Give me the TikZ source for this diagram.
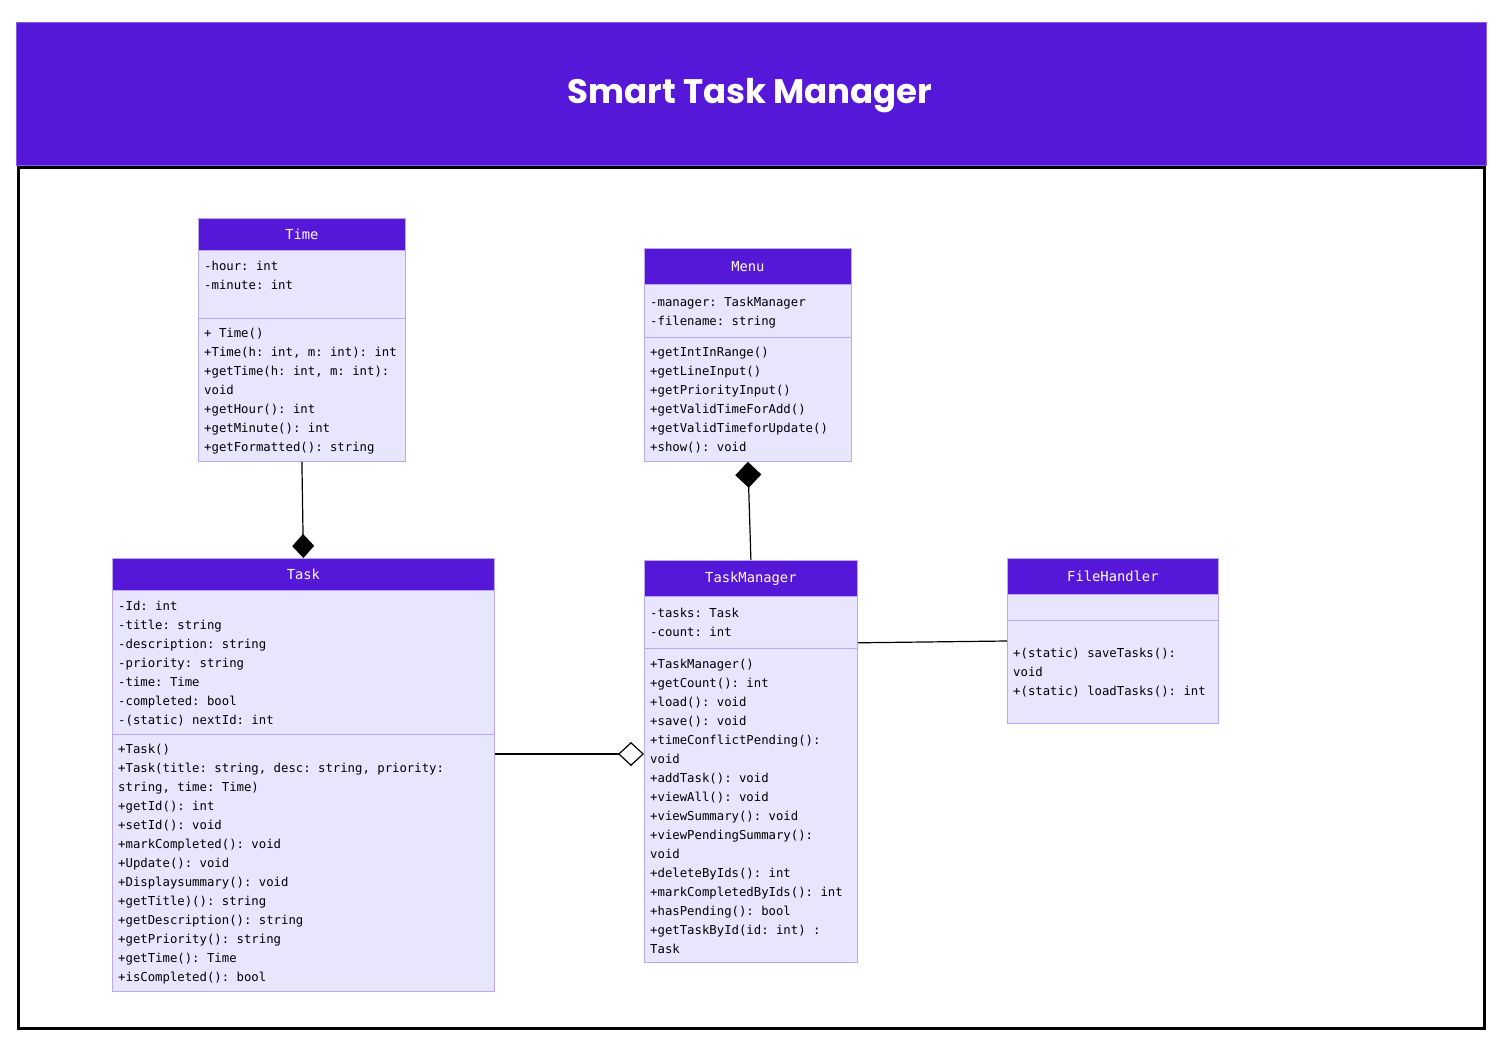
\documentclass[tikz,border=0pt]{standalone}
\usepackage{fontspec}
\usetikzlibrary{arrows.meta}
\newfontfamily\monofont{DejaVu Sans Mono}
\newfontfamily\titlefont{Poppins}
\definecolor{hdrc}{HTML}{5518D9}
\definecolor{boxc}{HTML}{E8E5FE}
\definecolor{bordc}{HTML}{BBA8F3}
\frenchspacing
\tikzset{
  hdr/.style={fill=hdrc, draw=bordc, line width=0.8pt, text=white, anchor=north west, inner sep=0pt, font=\monofont\frenchspacing\fontsize{13.8}{16}\selectfont},
  sec/.style={fill=boxc, draw=bordc, line width=0.8pt, anchor=north west, inner sep=0pt},
  ln/.style={anchor=base west, inner sep=0pt, text=black, font=\monofont\frenchspacing\fontsize{12.3}{19}\selectfont},
  conn/.style={line width=1.2pt, black},
}
\newcommand\putlines[4]{%
  \foreach \t [count=\i] in {#4} {\node[ln] (#1\i) at (#2,{#3+19*(\i-1)}) {\t};}%
}
\begin{document}
\begin{tikzpicture}[x=1pt,y=-1pt]
\useasboundingbox (0,0) rectangle (1502,1057);
\fill[white] (0,0) rectangle (1502,1057);
% header band
\node[fill=hdrc, draw=hdrc!70!white, line width=0.6pt, anchor=north west, inner sep=0pt, minimum width=1470pt, minimum height=143pt] (band) at (16,22) {};
\node[text=white, font=\titlefont\bfseries\fontsize{34}{40}\selectfont] (title) at (750,96) {Smart Task Manager};
\draw[line width=3pt] (18,167) rectangle (1484,1028);

% Time
\node[hdr, minimum width=207pt, minimum height=32pt] (time) at (198,218) {Time};
\node[sec, minimum width=207pt, minimum height=68pt] (timeA) at (198,250) {};
\node[sec, minimum width=207pt, minimum height=143pt] (timeM) at (198,318) {};
\putlines{timeAl}{204}{270.5}{{-hour: int},{-minute: int}}
\putlines{timeMl}{204}{337.5}{{+ Time()},{+Time(h: int, m: int): int},{+getTime(h: int, m: int):},{void},{+getHour(): int},{+getMinute(): int},{+getFormatted(): string}}

% Menu
\node[hdr, minimum width=207pt, minimum height=36pt] (menu) at (644,248) {Menu};
\node[sec, minimum width=207pt, minimum height=53pt] (menuA) at (644,284) {};
\node[sec, minimum width=207pt, minimum height=124pt] (menuM) at (644,337) {};
\putlines{menuAl}{650}{306.5}{{-manager: TaskManager},{-filename: string}}
\putlines{menuMl}{650}{356.5}{{+getIntInRange()},{+getLineInput()},{+getPriorityInput()},{+getValidTimeForAdd()},{+getValidTimeforUpdate()},{+show(): void}}

% Task
\node[hdr, minimum width=382pt, minimum height=32pt] (task) at (112,558) {Task};
\node[sec, minimum width=382pt, minimum height=144pt] (taskA) at (112,590) {};
\node[sec, minimum width=382pt, minimum height=257pt] (taskM) at (112,734) {};
\putlines{taskAl}{118}{610.5}{{-Id: int},{-title: string},{-description: string},{-priority: string},{-time: Time},{-completed: bool},{-(static) nextId: int}}
\putlines{taskMl}{118}{753.5}{{+Task()},{+Task(title: string, desc: string, priority:},{string, time: Time)},{+getId(): int},{+setId(): void},{+markCompleted(): void},{+Update(): void},{+Displaysummary(): void},{+getTitle)(): string},{+getDescription(): string},{+getPriority(): string},{+getTime(): Time},{+isCompleted(): bool}}

% TaskManager
\node[hdr, minimum width=213pt, minimum height=36pt] (tm) at (644,560) {TaskManager};
\node[sec, minimum width=213pt, minimum height=52pt] (tmA) at (644,596) {};
\node[sec, minimum width=213pt, minimum height=314pt] (tmM) at (644,648) {};
\putlines{tmAl}{650}{617.5}{{-tasks: Task},{-count: int}}
\putlines{tmMl}{650}{668.5}{{+TaskManager()},{+getCount(): int},{+load(): void},{+save(): void},{+timeConflictPending():},{void},{+addTask(): void},{+viewAll(): void},{+viewSummary(): void},{+viewPendingSummary():},{void},{+deleteByIds(): int},{+markCompletedByIds(): int},{+hasPending(): bool},{+getTaskById(id: int) :},{Task}}

% FileHandler
\node[hdr, minimum width=211pt, minimum height=36pt] (fh) at (1007,558) {FileHandler};
\node[sec, minimum width=211pt, minimum height=26pt] (fhA) at (1007,594) {};
\node[sec, minimum width=211pt, minimum height=103pt] (fhM) at (1007,620) {};
\putlines{fhMl}{1013}{657.5}{{+(static) saveTasks():},{void},{+(static) loadTasks(): int}}

% connectors
\draw[conn, -{Diamond[length=24pt,width=22pt,fill=black]}] (timeM.south) -- (task.north);
\draw[conn, {Diamond[length=26pt,width=26pt,fill=black]}-] (menuM.south) -- (tm.north);
\draw[conn, -{Diamond[open,length=26pt,width=24pt,fill=white]}] ([yshift=-20pt]taskM.north east) -- ([yshift=-106pt]tmM.north west);
\draw[conn] ([yshift=6pt]tmA.south east) -- ([yshift=-21pt]fhM.north west);
\end{tikzpicture}
\end{document}
